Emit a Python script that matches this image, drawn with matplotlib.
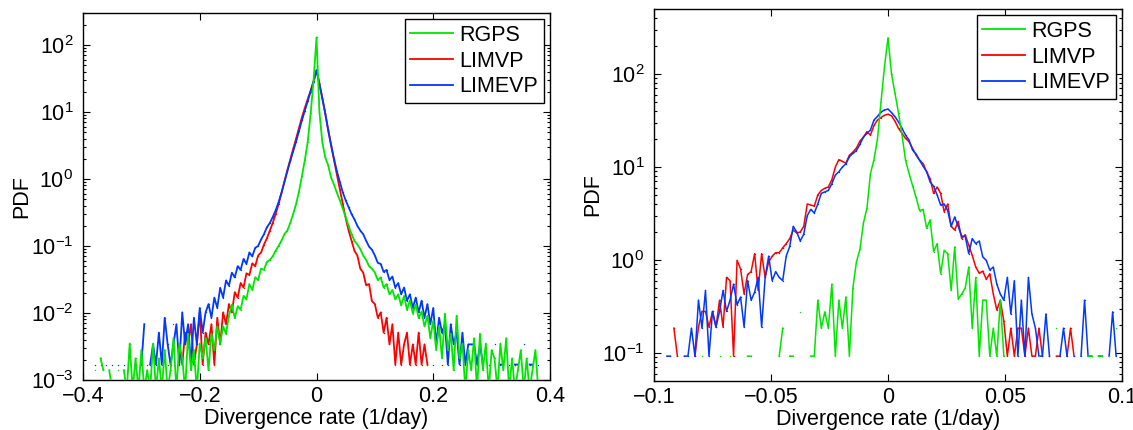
import numpy as np
import matplotlib
matplotlib.use('Agg')
import matplotlib.pyplot as plt
from matplotlib.ticker import LogLocator, NullLocator

plt.rcParams['font.family'] = ['Liberation Sans', 'DejaVu Sans']
plt.rcParams['mathtext.fontset'] = 'custom'
plt.rcParams['mathtext.rm'] = 'Liberation Sans'
plt.rcParams['mathtext.it'] = 'Liberation Sans:italic'
plt.rcParams['mathtext.bf'] = 'Liberation Sans:bold'

nan = np.nan

# ---------------- data ----------------
series_names = ['RGPS', 'LIMVP', 'LIMEVP']
series_colors = ['#00e600', '#ff0000', '#0038ff']

# Left panel: bin centres -0.38 ... 0.38 (step 0.005)
left_x = np.round(np.linspace(-0.38, 0.38, 153), 4)

left_rgps = [
    0.0014, nan, 0.0021, 0.0014, nan, 0.0014, 0.0007, nan, 0.0014, nan,
    0.0014, 0.0007, 0.0035, 0.0007, 0.0021, 0.0007, 0.0028, 0.0007, 0.0014, 0.0007,
    0.0035, 0.0007, 0.0021, 0.0007, 0.0028, 0.0007, 0.0014, 0.0042, 0.0007, 0.0035,
    0.0021, 0.0007, 0.0049, 0.0014, 0.0028, 0.0007, 0.0035, 0.0021, 0.0042, 0.0014,
    0.0049, 0.0028, 0.0063, 0.0035, 0.0063, 0.0049, 0.0091, 0.0133, 0.0084, 0.0126,
    0.0112, 0.018, 0.016, 0.027, 0.022, 0.034, 0.031, 0.046, 0.044, 0.058,
    0.062, 0.070, 0.085, 0.10, 0.12, 0.15, 0.17, 0.22, 0.30, 0.42,
    0.65, 1.1, 1.9, 3.6, 9.5, 30, 130,
    10, 3.5, 2.1, 1.6, 1.05, 0.82, 0.62, 0.48, 0.36, 0.27,
    0.20, 0.15, 0.12, 0.105, 0.09, 0.072, 0.062, 0.05, 0.046, 0.04,
    0.031, 0.034, 0.024, 0.027, 0.019, 0.022, 0.016, 0.019, 0.013, 0.018,
    0.0112, 0.0154, 0.0098, 0.0133, 0.0084, 0.0105, 0.0063, 0.0091, 0.0042, 0.0077,
    0.0028, 0.0063, 0.0021, 0.0098, 0.0028, 0.0049, 0.0014, 0.0091, 0.0021, 0.0035,
    0.0007, 0.0028, 0.0014, 0.0042, 0.0007, 0.0049, 0.0014, 0.0035, 0.0007, 0.0028,
    0.0021, 0.0007, 0.0035, 0.0014, 0.0042, 0.0007, 0.0021, 0.0007, 0.0014, 0.0028,
    0.0007, 0.0021, 0.0007, 0.0014, 0.0028, 0.0007,
]

left_limvp = [
    nan, nan, nan, nan, nan, nan, nan, nan, nan, nan,
    nan, nan, nan, nan, nan, nan, nan, nan, 0.0017, nan,
    nan, nan, nan, nan, nan, 0.0017, nan, 0.0068, nan, 0.0034,
    0.0017, 0.0051, 0.0034, 0.0068, 0.0017, 0.0034, 0.0102, 0.0017, 0.0051, 0.0034,
    0.0068, 0.0017, 0.0085, 0.0034, 0.0102, 0.0068, 0.0136, 0.0102, 0.0204, 0.0170,
    0.028, 0.024, 0.039, 0.037, 0.055, 0.050, 0.072, 0.080, 0.105, 0.13,
    0.17, 0.22, 0.30, 0.42, 0.62, 0.92, 1.35, 1.95, 2.8, 4.0,
    5.8, 8.3, 11.5, 15.5, 21, 29, 42,
    27, 16, 9.5, 5.5, 3.2, 1.9, 1.15, 0.70, 0.42, 0.26,
    0.17, 0.12, 0.085, 0.072, 0.046, 0.040, 0.026, 0.027, 0.015, 0.0136,
    0.0085, 0.0102, 0.0051, 0.0085, 0.0034, 0.0068, 0.0017, 0.0051, 0.0017, 0.0034,
    0.0051, 0.0017, 0.0034, 0.0017, 0.0051, 0.0017, 0.0034, 0.0017, nan, 0.0017,
    nan, nan, 0.0017, nan, nan, nan, nan, nan, nan, nan,
    nan, nan, nan, nan, nan, nan, nan, nan, nan, nan,
    nan, nan, nan, nan, nan, nan, nan, nan, nan, nan,
    nan, nan, nan, nan, nan, nan,
]

left_limevp = [
    0.0017, nan, 0.0017, nan, 0.0017, nan, 0.0017, nan, 0.0017, nan,
    0.0017, nan, 0.0034, nan, 0.0017, nan, 0.0017, 0.0068, nan, 0.0017,
    0.0034, 0.0017, 0.0051, 0.0017, 0.0085, 0.0034, 0.0017, 0.0034, 0.0068, 0.0017,
    0.0102, 0.0034, 0.0068, 0.0017, 0.0085, 0.0034, 0.0119, 0.0051, 0.0102, 0.0136,
    0.0085, 0.0170, 0.0119, 0.0238, 0.0170, 0.0306, 0.0255, 0.040, 0.034, 0.050,
    0.044, 0.064, 0.054, 0.080, 0.070, 0.094, 0.10, 0.125, 0.15, 0.19,
    0.22, 0.27, 0.34, 0.45, 0.62, 0.90, 1.3, 1.85, 2.6, 3.6,
    5.2, 7.5, 10.5, 14.5, 20, 28, 42,
    26, 16, 9.5, 5.3, 3.2, 2.0, 1.3, 0.9, 0.63, 0.48,
    0.38, 0.30, 0.25, 0.20, 0.17, 0.15, 0.12, 0.098, 0.088, 0.072,
    0.056, 0.054, 0.041, 0.044, 0.031, 0.035, 0.024, 0.028, 0.019, 0.024,
    0.0153, 0.019, 0.0119, 0.0170, 0.0102, 0.0153, 0.0085, 0.0136, 0.0068, 0.0119,
    0.0034, 0.0085, 0.0051, 0.0068, 0.0017, 0.0068, 0.0034, 0.0051, 0.0017, 0.0051,
    0.0017, 0.0034, 0.0034, 0.0034, 0.0017, 0.0034, 0.0017, nan, 0.0017, nan,
    0.0034, nan, 0.0017, 0.0017, nan, 0.0017, nan, 0.0017, 0.0017, nan,
    0.0034, nan, 0.0017, 0.0017, nan, 0.0017,
]

# Right panel: bin centres -0.0945 ... 0.0975 (step 0.0015)
right_x = np.round(np.linspace(-0.0945, 0.0975, 129), 5)

right_rgps = [
    nan, nan, nan, nan, nan, nan, nan, nan, nan, nan,
    0.0925, nan, nan, nan, nan, 0.0925, nan, nan, 0.0925, nan,
    nan, nan, nan, 0.0925, 0.0925, nan, nan, nan, nan, nan,
    nan, nan, 0.0925, 0.185, nan, 0.0925, 0.0925, nan, 0.277, nan,
    nan, 0.0925, 0.0925, 0.37, 0.185, 0.277, 0.185, 0.55, 0.0925, 0.37,
    0.185, 0.40, 0.0925, 0.50, 0.95, 1.3, 2.5, 3.6, 8.5, 12,
    20, 50, 120, 245,
    100, 62, 38, 22, 11.8, 8.5, 6.3, 4.7, 3.4, 3.5,
    2.2, 2.7, 1.23, 1.5, 0.71, 1.27, 1.17, 0.47, 1.38, 0.38,
    0.43, 0.50, 0.84, 0.185, 0.65, 0.0925, 0.37, 0.37, 0.0925, 0.185,
    0.0925, 0.37, 0.0925, nan, nan, nan, nan, nan, nan, nan,
    nan, nan, 0.0925, nan, nan, nan, nan, 0.185, nan, nan,
    nan, nan, nan, nan, nan, nan, 0.0925, 0.0925, nan, 0.0925,
    0.0925, nan, 0.0925, nan, 0.185,
]

right_limvp = [
    nan, nan, 0.185, 0.0925, nan, nan, nan, nan, 0.0925, 0.19,
    0.28, 0.28, 0.19, 0.28, 0.19, 0.37, 0.19, 0.65, 0.60, 0.0925,
    0.99, 0.80, 0.43, 0.70, 0.75, 1.17, 0.47, 1.17, 0.65, 0.95,
    1.1, 1.2, 1.2, 1.35, 1.5, 1.7, 2.1, 1.95, 2.0, 2.3,
    4.0, 3.9, 3.8, 5.0, 5.6, 5.9, 6.1, 7.3, 10, 12,
    11.5, 11, 13.4, 14.5, 16, 19, 21, 24, 22, 28,
    32, 34, 36, 37,
    35.5, 31, 26, 23, 20.3, 18.7, 15.8, 13.4, 11.8, 10.9,
    8.9, 7.5, 5.2, 6.1, 5.2, 3.3, 4.0, 2.3, 2.1, 2.6,
    1.7, 1.87, 1.45, 1.12, 0.84, 0.72, 0.76, 0.62, 0.71, 0.43,
    0.29, 0.37, 0.22, 0.0925, 0.185, 0.0925, 0.185, 0.185, 0.0925, 0.185,
    0.0925, 0.0925, 0.185, 0.0925, nan, 0.0925, nan, 0.0925, 0.0925, nan,
    0.0925, 0.185, 0.0925, nan, nan, nan, nan, nan, nan, nan,
    nan, nan, nan, nan, nan,
]

right_limevp = [
    0.0925, 0.0925, nan, nan, nan, 0.0925, 0.0925, 0.185, 0.0925, 0.37,
    0.185, 0.47, 0.0925, 0.28, 0.19, 0.28, 0.47, 0.28, 0.37, 0.55,
    0.33, 0.40, 0.19, 0.60, 0.37, 0.45, 0.65, 0.19, 0.65, 1.1,
    0.60, 0.75, 0.65, 0.60, 1.1, 1.4, 2.3, 2.0, 1.6, 1.9,
    3.0, 3.5, 3.2, 4.0, 5.2, 5.4, 5.6, 6.6, 8.2, 8.9,
    10, 10.8, 12.9, 14, 15, 17.5, 21, 23, 25, 32,
    35, 39, 41, 42,
    38.5, 34.7, 30.5, 26, 22, 19.5, 15.2, 13.8, 11.8, 10.2,
    8.9, 6.9, 6.2, 5.0, 3.9, 4.0, 3.4, 2.3, 2.9, 2.3,
    1.8, 1.8, 1.17, 1.7, 1.5, 1.6, 1.08, 0.99, 0.78, 0.84,
    0.55, 0.43, 0.37, 0.65, 0.263, 0.60, 0.0925, 0.37, 0.0925, 0.65,
    0.263, 0.185, 0.0925, 0.0925, 0.263, 0.0925, nan, nan, 0.0925, 0.185,
    0.0925, nan, 0.0925, nan, 0.0925, 0.37, 0.0925, 0.0925, nan, 0.0925,
    0.0925, nan, 0.0925, 0.277, 0.0925,
]

left_xticks = [-0.4, -0.2, 0, 0.2, 0.4]
left_xticklabels = ['\u22120.4', '\u22120.2', '0', '0.2', '0.4']
right_xticks = [-0.1, -0.05, 0, 0.05, 0.1]
right_xticklabels = ['\u22120.1', '\u22120.05', '0', '0.05', '0.1']

# ---------------- figure ----------------
fig = plt.figure(figsize=(11.33, 4.30), dpi=100)
axL = fig.add_axes([83 / 1133, 50 / 430, 467 / 1133, 367 / 430])
axR = fig.add_axes([654 / 1133, 49 / 430, 468 / 1133, 372 / 430])

FS = 15.5
panels = [
    (axL, left_x, [left_rgps, left_limvp, left_limevp], (-0.4, 0.4), (1e-3, 3e2),
     left_xticks, left_xticklabels, 1.3),
    (axR, right_x, [right_rgps, right_limvp, right_limevp], (-0.1, 0.1), (5e-2, 5e2),
     right_xticks, right_xticklabels, 1.1),
]

for ax, xs, ys, xlim, ylim, xt, xtl, lw in panels:
    order = [1, 2, 0]  # draw red, blue, then green on top
    handles = {}
    for i in order:
        yv = np.array(ys[i], dtype=float)
        h, = ax.plot(xs, yv, color=series_colors[i],
                     lw=lw, marker='.', ms=2.0, mew=0, label=series_names[i],
                     zorder=2 + order.index(i))
        handles[i] = h
    ax.set_yscale('log')
    ax.set_xlim(*xlim)
    ax.set_ylim(*ylim)
    ax.set_xticks(xt)
    ax.set_xticklabels(xtl)
    ax.xaxis.set_minor_locator(NullLocator())
    ax.yaxis.set_major_locator(LogLocator(base=10, numticks=20))
    ax.yaxis.set_minor_locator(LogLocator(base=10, subs=np.arange(2, 10), numticks=20))
    ax.tick_params(which='both', direction='in', top=True, right=True,
                   labelsize=FS, width=0.8, colors='black')
    ax.tick_params(which='major', length=5)
    ax.tick_params(which='minor', length=2.5)
    ax.tick_params(axis='x', which='major', pad=4)
    ax.tick_params(axis='y', which='major', pad=7)
    for s in ax.spines.values():
        s.set_linewidth(1.0)
        s.set_color('black')
    ax.set_xlabel('Divergence rate (1/day)', fontsize=FS, labelpad=1)
    ax.set_ylabel('PDF', fontsize=FS, labelpad=-1)
    leg = ax.legend([handles[0], handles[1], handles[2]], series_names,
                    loc='upper right', fontsize=FS, frameon=True, fancybox=False,
                    framealpha=1, edgecolor='black', borderaxespad=0.3,
                    handlelength=2.0, handletextpad=0.3, labelspacing=0.22,
                    borderpad=0.25)
    leg.get_frame().set_linewidth(1.0)
    for ln in leg.get_lines():
        ln.set_linewidth(1.3)
        ln.set_marker('')

fig.savefig('out.png', dpi=100)
